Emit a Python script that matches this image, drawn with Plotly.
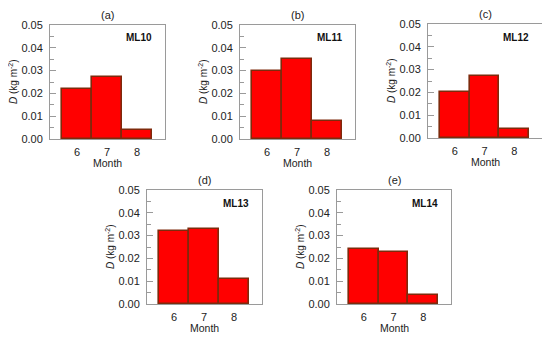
import plotly.graph_objects as go

months = [6, 7, 8]
sites = ["ML10", "ML11", "ML12", "ML13", "ML14"]
panel_labels = ["(a)", "(b)", "(c)", "(d)", "(e)"]
values_ml10 = [0.022, 0.027, 0.004]
values_ml11 = [0.030, 0.035, 0.008]
values_ml12 = [0.020, 0.027, 0.004]
values_ml13 = [0.032, 0.033, 0.011]
values_ml14 = [0.024, 0.023, 0.004]
y_ticks = [0.00, 0.01, 0.02, 0.03, 0.04, 0.05]
all_values = [values_ml10, values_ml11, values_ml12, values_ml13, values_ml14]

OFF = 8  # the page body margin offsets the figure by 8px
W, H = 550 - OFF, 340 - OFF
# plot areas in window pixels: (left, right, top, bottom)
boxes = [(50, 165, 25, 139), (240, 355, 25, 139), (428, 542, 24, 138),
         (147, 262, 190, 304), (337, 451, 190, 304)]

FONT = "Liberation Sans, Arial, sans-serif"
fig = go.Figure()
annotations = []
for i, (vals, site, lab, box) in enumerate(zip(all_values, sites, panel_labels, boxes)):
    n = "" if i == 0 else str(i + 1)
    l, r, t, b = [v - OFF for v in box]
    fig.add_trace(go.Bar(
        x=months, y=vals, width=1,
        marker=dict(color="#ff0000", line=dict(color="#7e2a0c", width=1.6)),
        xaxis="x" + n, yaxis="y" + n, showlegend=False))
    fig.update_layout(**{
        "xaxis" + n: dict(domain=[l / W, r / W], anchor="y" + n, range=[5.1, 8.93],
                          tickvals=months, ticks="", showgrid=False, zeroline=False,
                          showline=True, linecolor="#9a9a9a", linewidth=1, mirror=True,
                          tickfont=dict(size=11, color="#222", family=FONT),
                          ticklabelstandoff=3, automargin=False),
        "yaxis" + n: dict(domain=[1 - b / H, 1 - t / H], anchor="x" + n, range=[0, 0.05],
                          tickvals=y_ticks, tickformat=".2f", ticks="inside", ticklen=6,
                          tickcolor="#9a9a9a", showgrid=False, zeroline=False,
                          showline=True, linecolor="#9a9a9a", linewidth=1, mirror=True,
                          minor=dict(dtick=0.005, ticks="inside", ticklen=4, tickcolor="#9a9a9a"),
                          tickfont=dict(size=11, color="#222", family=FONT),
                          ticklabelstandoff=4, automargin=False),
    })
    xd = "x" + n + " domain"
    yd = "y" + n + " domain"
    annotations += [
        dict(text=lab, xref=xd, yref=yd, x=0.5, y=1, yshift=10, xanchor="center",
             yanchor="middle", showarrow=False, font=dict(size=11, color="#222", family=FONT)),
        dict(text="<b>" + site + "</b>", xref=xd, yref=yd, x=1, y=1, xshift=-11, yshift=-13,
             xanchor="right", yanchor="middle", showarrow=False,
             font=dict(size=10, color="#111", family=FONT)),
        dict(text="Month", xref=xd, yref=yd, x=0.5, y=0, yshift=-24, xanchor="center",
             yanchor="middle", showarrow=False, font=dict(size=10.5, color="#222", family=FONT)),
        dict(text="<i>D</i> (kg m<sup>-2</sup>)", xref="paper", yref=yd, x=(l - 37) / W, y=0.5,
             textangle=-90, xanchor="center", yanchor="middle", showarrow=False,
             font=dict(size=10, color="#222", family=FONT)),
    ]

fig.update_layout(width=W, height=H, margin=dict(l=0, r=0, t=0, b=0, autoexpand=False),
                  paper_bgcolor="white", plot_bgcolor="white", bargap=0,
                  annotations=annotations)
fig.write_html("out.html")
